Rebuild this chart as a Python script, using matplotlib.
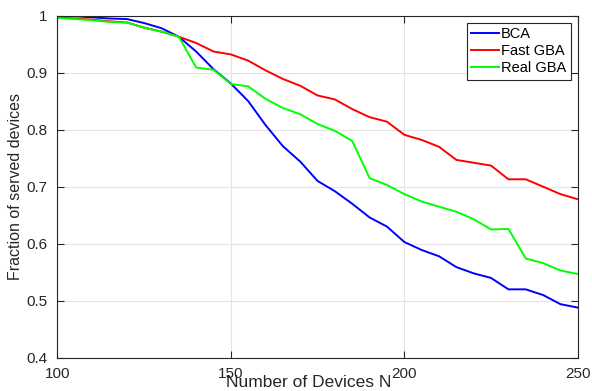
import matplotlib
matplotlib.use('Agg')
import matplotlib.pyplot as plt
import numpy as np

plt.rcParams['font.family'] = ['Liberation Sans', 'DejaVu Sans']

# number of devices
N = np.arange(100, 251, 5)

# fraction of served devices per scheme
bca = [1.000, 0.999, 0.997, 0.995, 0.994, 0.987, 0.978, 0.963, 0.937, 0.906,
       0.881, 0.850, 0.808, 0.771, 0.744, 0.710, 0.692, 0.670, 0.646, 0.630,
       0.603, 0.589, 0.578, 0.559, 0.548, 0.540, 0.520, 0.520, 0.510, 0.494,
       0.488]
fast_gba = [0.997, 0.995, 0.993, 0.990, 0.988, 0.979, 0.972, 0.963, 0.952, 0.937,
            0.932, 0.921, 0.904, 0.889, 0.877, 0.860, 0.853, 0.836, 0.822, 0.814,
            0.791, 0.782, 0.770, 0.747, 0.742, 0.737, 0.713, 0.713, 0.700, 0.687,
            0.678]
real_gba = [0.996, 0.994, 0.992, 0.989, 0.988, 0.979, 0.972, 0.963, 0.909, 0.905,
            0.880, 0.876, 0.854, 0.838, 0.827, 0.810, 0.798, 0.780, 0.715, 0.703,
            0.687, 0.674, 0.665, 0.656, 0.643, 0.625, 0.626, 0.574, 0.566, 0.553,
            0.547]

fig = plt.figure(figsize=(5.92, 3.91), dpi=100)
ax = fig.add_axes([0.097, 0.085, 0.879, 0.875])

ax.plot(N, bca, color='#0000ff', lw=1.4, label='BCA')
ax.plot(N, fast_gba, color='#ff0000', lw=1.4, label='Fast GBA')
ax.plot(N, real_gba, color='#00ff00', lw=1.4, label='Real GBA')

ax.set_xlim(100, 250)
ax.set_ylim(0.4, 1.0)
ax.set_xticks([100, 150, 200, 250])
ax.set_yticks([0.4, 0.5, 0.6, 0.7, 0.8, 0.9, 1.0])
ax.set_yticklabels(['0.4', '0.5', '0.6', '0.7', '0.8', '0.9', '1'])

ax.grid(True, color='#e3e3e3', lw=0.8)
ax.set_axisbelow(True)
ax.tick_params(direction='in', top=True, right=True, length=5, width=0.8,
               colors='#262626', labelsize=11, pad=7)
for s in ax.spines.values():
    s.set_color('#262626')
    s.set_linewidth(0.8)

ax.set_xlabel('Number of Devices N', fontsize=12.5, color='#262626')
ax.xaxis.set_label_coords(0.483, -0.0515)
ax.set_ylabel('Fraction of served devices', fontsize=11.5, color='#262626')
ax.yaxis.set_label_coords(-0.066, 0.5)

leg = ax.legend(loc='upper right', fontsize=10.5, fancybox=False, framealpha=1,
                edgecolor='#262626', borderaxespad=0.5, handlelength=1.9,
                handletextpad=0.15, borderpad=0.3, labelspacing=0.2)
leg.get_frame().set_linewidth(0.8)

fig.savefig('out.png', dpi=100)
